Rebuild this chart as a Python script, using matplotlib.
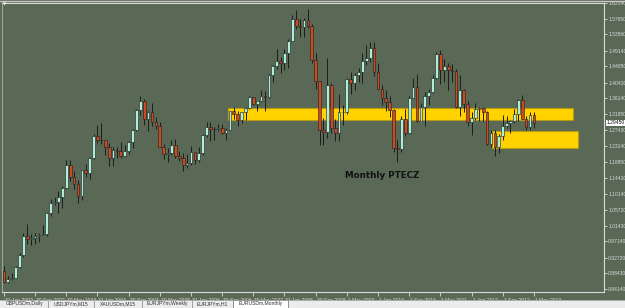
import numpy as np
import matplotlib
matplotlib.use("Agg")
import matplotlib.pyplot as plt
import matplotlib.transforms as mtransforms
from matplotlib.patches import Rectangle

# EURUSD monthly, Jan 2002 .. May 2013 (one value per month)
opens = [
    0.8900, 0.8600, 0.8690, 0.8720, 0.9020, 0.9330, 0.9870, 0.9780, 0.9810, 0.9870, 0.9880, 0.9920,
    1.0490, 1.0760, 1.0780, 1.0910, 1.1170, 1.1800, 1.1480, 1.1270, 1.0960, 1.1650, 1.1580, 1.1990,
    1.2590, 1.2470, 1.2470, 1.2300, 1.1980, 1.2200, 1.2170, 1.2030, 1.2180, 1.2430, 1.2750, 1.3290,
    1.3550, 1.3040, 1.3230, 1.2960, 1.2870, 1.2300, 1.2100, 1.2120, 1.2330, 1.2040, 1.1990, 1.1790,
    1.1840, 1.2160, 1.1930, 1.2120, 1.2620, 1.2820, 1.2790, 1.2770, 1.2810, 1.2670, 1.2760, 1.3260,
    1.3190, 1.3030, 1.3230, 1.3350, 1.3650, 1.3450, 1.3540, 1.3690, 1.3640, 1.4260, 1.4490, 1.4640,
    1.4590, 1.4860, 1.5180, 1.5790, 1.5600, 1.5550, 1.5760, 1.5600, 1.4670, 1.4090, 1.2740, 1.2700,
    1.3970, 1.2800, 1.2670, 1.3240, 1.3230, 1.4150, 1.4030, 1.4260, 1.4340, 1.4640, 1.4720, 1.5000,
    1.4320, 1.3870, 1.3630, 1.3510, 1.3290, 1.2270, 1.2230, 1.3050, 1.2680, 1.3630, 1.3930, 1.3000,
    1.3380, 1.3690, 1.3800, 1.4180, 1.4810, 1.4390, 1.4500, 1.4390, 1.4370, 1.3380, 1.3850, 1.3450,
    1.2960, 1.3080, 1.3320, 1.3340, 1.3240, 1.2370, 1.2660, 1.2300, 1.2580, 1.2860, 1.2950, 1.2990,
    1.3190, 1.3580, 1.3060, 1.2820, 1.3170,
]
highs = [
    0.9030, 0.8780, 0.8850, 0.9050, 0.9400, 0.9950, 1.0180, 0.9920, 0.9950, 0.9950, 1.0150, 1.0500,
    1.0870, 1.0930, 1.1080, 1.1230, 1.1930, 1.1930, 1.1640, 1.1400, 1.1650, 1.1830, 1.2020, 1.2650,
    1.2900, 1.2930, 1.2480, 1.2390, 1.2290, 1.2300, 1.2420, 1.2330, 1.2440, 1.2780, 1.3320, 1.3670,
    1.3590, 1.3260, 1.3480, 1.3100, 1.2970, 1.2380, 1.2260, 1.2480, 1.2510, 1.2170, 1.2110, 1.2090,
    1.2320, 1.2160, 1.2300, 1.2650, 1.2980, 1.2980, 1.2830, 1.2910, 1.2920, 1.2810, 1.3270, 1.3370,
    1.3270, 1.3250, 1.3370, 1.3680, 1.3650, 1.3540, 1.3850, 1.3820, 1.4280, 1.4530, 1.4970, 1.4730,
    1.4970, 1.5240, 1.5900, 1.6020, 1.5780, 1.5810, 1.6040, 1.5630, 1.4860, 1.4090, 1.3090, 1.4720,
    1.4030, 1.3060, 1.3740, 1.3430, 1.4160, 1.4340, 1.4300, 1.4450, 1.4840, 1.5060, 1.5140, 1.5140,
    1.4580, 1.3990, 1.3830, 1.3690, 1.3330, 1.2470, 1.3120, 1.3330, 1.3680, 1.4160, 1.4280, 1.3500,
    1.3800, 1.3860, 1.4250, 1.4880, 1.4940, 1.4700, 1.4580, 1.4550, 1.4420, 1.4250, 1.3880, 1.3550,
    1.3230, 1.3490, 1.3390, 1.3380, 1.3280, 1.2750, 1.2750, 1.2640, 1.3170, 1.3140, 1.3010, 1.3310,
    1.3590, 1.3710, 1.3120, 1.3240, 1.3240,
]
lows = [
    0.8580, 0.8565, 0.8660, 0.8720, 0.9000, 0.9300, 0.9650, 0.9620, 0.9640, 0.9690, 0.9880, 0.9860,
    1.0400, 1.0700, 1.0500, 1.0620, 1.1130, 1.1350, 1.1150, 1.0760, 1.0850, 1.1470, 1.1410, 1.1950,
    1.2390, 1.2360, 1.2080, 1.1760, 1.1760, 1.1980, 1.2000, 1.2010, 1.2090, 1.2260, 1.2730, 1.3170,
    1.2900, 1.2730, 1.2850, 1.2770, 1.2300, 1.1950, 1.1870, 1.2060, 1.1990, 1.1900, 1.1640, 1.1710,
    1.1800, 1.1820, 1.1870, 1.2060, 1.2570, 1.2460, 1.2480, 1.2730, 1.2640, 1.2480, 1.2740, 1.3060,
    1.2860, 1.2930, 1.3030, 1.3330, 1.3420, 1.3270, 1.3520, 1.3260, 1.3610, 1.4070, 1.4420, 1.4300,
    1.4400, 1.4430, 1.5170, 1.5500, 1.5280, 1.5300, 1.5520, 1.4580, 1.3880, 1.2330, 1.2330, 1.2530,
    1.2670, 1.2460, 1.2460, 1.2880, 1.3180, 1.3740, 1.3850, 1.4050, 1.4040, 1.4530, 1.4610, 1.4220,
    1.3860, 1.3440, 1.3270, 1.3110, 1.2140, 1.1880, 1.2160, 1.2590, 1.2650, 1.3610, 1.2970, 1.3070,
    1.2870, 1.3430, 1.3750, 1.4140, 1.4000, 1.4070, 1.3840, 1.4050, 1.3360, 1.3140, 1.3250, 1.2860,
    1.2620, 1.3020, 1.3000, 1.3000, 1.2340, 1.2290, 1.2040, 1.2130, 1.2480, 1.2800, 1.2660, 1.2930,
    1.3000, 1.3050, 1.2750, 1.2740, 1.2800,
]
closes = [
    0.8600, 0.8690, 0.8720, 0.9020, 0.9330, 0.9870, 0.9780, 0.9810, 0.9870, 0.9880, 0.9920, 1.0490,
    1.0760, 1.0780, 1.0910, 1.1170, 1.1800, 1.1480, 1.1270, 1.0960, 1.1650, 1.1580, 1.1990, 1.2590,
    1.2470, 1.2470, 1.2300, 1.1980, 1.2200, 1.2170, 1.2030, 1.2180, 1.2430, 1.2750, 1.3290, 1.3550,
    1.3040, 1.3230, 1.2960, 1.2870, 1.2300, 1.2100, 1.2120, 1.2330, 1.2040, 1.1990, 1.1790, 1.1840,
    1.2160, 1.1930, 1.2120, 1.2620, 1.2820, 1.2790, 1.2770, 1.2810, 1.2670, 1.2760, 1.3260, 1.3190,
    1.3030, 1.3230, 1.3350, 1.3650, 1.3450, 1.3540, 1.3690, 1.3640, 1.4260, 1.4490, 1.4640, 1.4590,
    1.4860, 1.5180, 1.5790, 1.5600, 1.5550, 1.5760, 1.5600, 1.4670, 1.4090, 1.2740, 1.2700, 1.3970,
    1.2800, 1.2670, 1.3240, 1.3230, 1.4150, 1.4030, 1.4260, 1.4340, 1.4640, 1.4720, 1.5000, 1.4320,
    1.3870, 1.3630, 1.3510, 1.3290, 1.2270, 1.2230, 1.3050, 1.2680, 1.3630, 1.3930, 1.3000, 1.3380,
    1.3690, 1.3800, 1.4180, 1.4810, 1.4390, 1.4500, 1.4390, 1.4370, 1.3380, 1.3850, 1.3450, 1.2960,
    1.3080, 1.3320, 1.3340, 1.3240, 1.2370, 1.2660, 1.2300, 1.2580, 1.2860, 1.2950, 1.2990, 1.3190,
    1.3580, 1.3060, 1.2820, 1.3170, 1.2945,
]

price_ticks = [1.62140, 1.57850, 1.53560, 1.49140, 1.44850, 1.40430, 1.36140, 1.31850,
               1.27430, 1.23140, 1.18850, 1.14430, 1.10140, 1.05720, 1.01430, 0.97140,
               0.92720, 0.88430, 0.84140]
date_ticks = [0, 8, 16, 24, 32, 40, 48, 56, 64, 72, 80, 88, 96, 104, 112, 120, 128, 136]
date_labels = ["31 Jan 2002", "30 Sep 2002", "30 May 2003", "31 Jan 2004", "30 Sep 2004",
               "30 May 2005", "31 Jan 2006", "30 Sep 2006", "30 May 2007", "31 Jan 2008",
               "30 Sep 2008", "1 May 2009", "1 Jan 2010", "1 Sep 2010", "1 May 2011",
               "1 Jan 2012", "1 Sep 2012", "1 May 2013"]
current_price = 1.29450

# supply/demand zones: (first month, last month, low, high)
zone_upper = (57.5, 146.0, 1.3030, 1.3350)
zone_lower = (125.2, 147.3, 1.2260, 1.2730)

tabs = ["GBPUSDm,Daily", "USDJPYm,M15", "XAUUSDm,M15", "EURJPYm,Weekly", "EURJPYm,H1", "EURUSDm,Monthly"]

BG = "#5a6956"
FG = "#d8d8d8"
BULL = "#aeeed8"
BEAR = "#cc4a22"
EDGE = "#1c1c1c"

W, H = 625, 308
fig = plt.figure(figsize=(W / 100, H / 100), dpi=100)
fig.patch.set_facecolor(BG)

# plot area in pixels: x 2..604, y 3..292
ax = fig.add_axes([2 / W, 1 - 292 / H, 602 / W, 289 / H])
ax.set_facecolor(BG)

o = np.array(opens)
h = np.array(highs)
l = np.array(lows)
c = np.array(closes)
idx = np.arange(len(o))
up = c >= o

for z in (zone_upper, zone_lower):
    ax.add_patch(Rectangle((z[0], z[2]), z[1] - z[0], z[3] - z[2],
                           facecolor="#ffd200", edgecolor="#b89a10", lw=0.8, zorder=1))

ax.vlines(idx, l, h, color=EDGE, lw=0.7, zorder=2)
body_lo = np.minimum(o, c)
body_h = np.maximum(np.abs(c - o), 0.002)
ax.bar(idx[up], body_h[up], bottom=body_lo[up], width=0.7, color=BULL,
       edgecolor=EDGE, lw=0.4, zorder=3)
ax.bar(idx[~up], body_h[~up], bottom=body_lo[~up], width=0.7, color=BEAR,
       edgecolor=EDGE, lw=0.4, zorder=3)

ax.set_xlim(-0.5, 154.0)
ax.set_ylim(0.8332, 1.6187)

for s in ax.spines.values():
    s.set_color(FG)
    s.set_linewidth(0.8)
ax.spines["left"].set_color("#9aa596")

ax.yaxis.tick_right()
ax.set_yticks(price_ticks)
ax.set_yticklabels(["%.5f" % p for p in price_ticks])
ax.tick_params(axis="y", colors=FG, length=2, width=0.6, pad=1, labelsize=3.6)
ax.set_xticks(date_ticks)
ax.set_xticklabels(date_labels)
ax.tick_params(axis="x", colors=FG, length=3, width=0.6, pad=1, labelsize=3.6)
shift = mtransforms.ScaledTranslation(1 / 100, 0, fig.dpi_scale_trans)
for lab in ax.get_xticklabels():
    lab.set_ha("left")
    lab.set_transform(lab.get_transform() + shift)
for lab in ax.get_yticklabels():
    lab.set_fontfamily("Liberation Sans")
    lab.set_color(FG)
for lab in ax.get_xticklabels():
    lab.set_fontfamily("Liberation Sans")

# current price marker on the price scale
ax.text(1.004, current_price, "%.5f" % current_price, transform=ax.get_yaxis_transform(),
        fontsize=3.6, family="Liberation Sans", color="#101010", va="center", ha="left",
        bbox=dict(boxstyle="square,pad=0.15", fc="white", ec="none"))

ax.text(382 / 602 * 1.0 - 2 / 602, 1 - (175 - 3) / 289, "Monthly PTECZ", transform=ax.transAxes,
        fontsize=6.3, fontweight="bold", color="#111111", ha="center", va="center",
        family="DejaVu Sans")

# small menu triangle in the corner
fig.text(5 / W, 1 - 4 / H, "\u25bc", fontsize=3, color="white", ha="center", va="center")

# window border
fig.add_artist(plt.Line2D([0, 1], [1 - 0.5 / H] * 2, color="#c8c8c8", lw=1))

# tab bar
tab_ax = fig.add_axes([0, 0, 1, 8 / H])
tab_ax.set_xlim(0, W)
tab_ax.set_ylim(0, 8)
tab_ax.set_facecolor("#ececec")
tab_ax.set_xticks([])
tab_ax.set_yticks([])
for s in tab_ax.spines.values():
    s.set_visible(False)
tab_edges = [2, 48, 94, 142, 192, 233, 288]
for i, name in enumerate(tabs):
    x0, x1 = tab_edges[i], tab_edges[i + 1]
    if i == len(tabs) - 1:
        tab_ax.add_patch(Rectangle((x0, 0), x1 - x0, 8, facecolor="white",
                                   edgecolor="#808080", lw=0.6))
    else:
        tab_ax.plot([x1, x1], [1, 7], color="#909090", lw=0.6)
    tab_ax.text((x0 + x1) / 2, 4, name, fontsize=3.6, family="Liberation Sans",
                color="#303030", ha="center", va="center")
tab_ax.plot([0, W], [7.7, 7.7], color="#a0a0a0", lw=0.6)

fig.savefig("out.png", dpi=100, facecolor=fig.get_facecolor())
